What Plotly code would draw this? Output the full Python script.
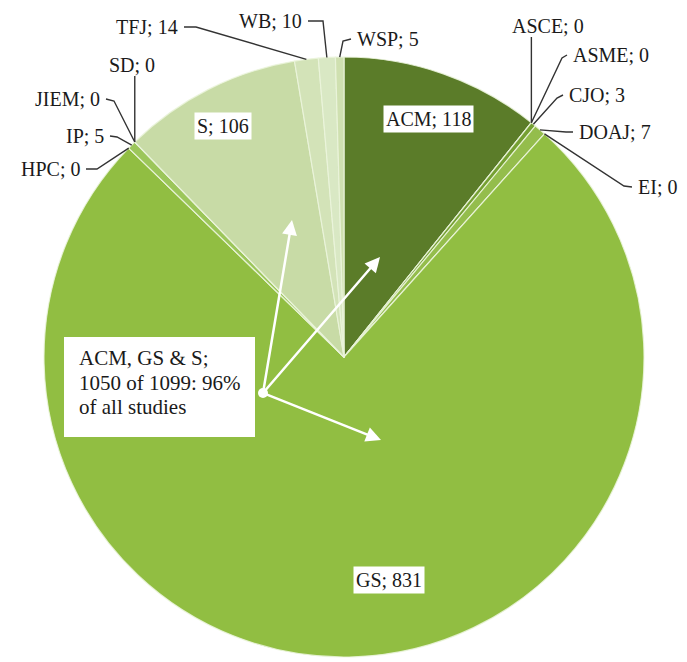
import math
import plotly.graph_objects as go

# ---- data ----
labels = ["ACM", "ASCE", "ASME", "CJO", "DOAJ", "EI", "GS", "HPC", "IP", "JIEM", "SD", "S", "TFJ", "WB", "WSP"]
values = [118, 0, 0, 3, 7, 0, 831, 0, 5, 0, 0, 106, 14, 10, 5]
slice_colors = ["#5b7c29", "#6e9430", "#6e9430", "#75a032", "#94bd4c", "#8fbc3f", "#91be42", "#8fbc40",
                "#9cc65a", "#c6d9a3", "#c6d9a3", "#c8dba6", "#d3e3b8", "#d9e8c4", "#cfe0b0"]
callout_lines = ["ACM, GS &amp; S;", "1050 of 1099: 96%", "of all studies"]

# page is 687x662; the page body has an 8px margin, so the figure is sized to fit the rest
PAGE_W, PAGE_H, OFF = 687, 662, 8
W, H = PAGE_W - OFF, PAGE_H - OFF
CX, CY, R = 344, 357, 300   # page pixel coordinates
FONT = "Liberation Serif"
FS = 20


def X(px):
    return (px - OFF) / W


def Y(py):
    return 1 - (py - OFF) / H


total = sum(values)
cum = []
c = 0
for v in values:
    cum.append((c, c + v))
    c += v


def anchor(name):
    i = labels.index(name)
    a0, a1 = cum[i]
    ang = math.radians((a0 + a1) / 2 / total * 360)
    return (CX + R * math.sin(ang), CY - R * math.cos(ang))


fig = go.Figure()
fig.add_trace(go.Pie(
    labels=labels, values=values, sort=False, direction="clockwise", rotation=0,
    marker=dict(colors=slice_colors, line=dict(color="rgba(235,245,220,0.85)", width=1.2)),
    textinfo="none", hoverinfo="label+value", showlegend=False,
    domain=dict(x=[X(CX - R), X(CX + R)], y=[Y(CY + R), Y(CY - R)]),
))

shapes = []
annotations = []
LINE = dict(color="#333333", width=1.4)

# outer labels: (name, text edge x, text y, side of text relative to line, elbow x, elbow y)
outer = [
    ("TFJ", 180, 27, "right", 196, 27),
    ("WB", 304, 21, "right", 323, 21),
    ("JIEM", 102, 99, "right", 114, 101),
    ("IP", 106, 136, "right", 117, 137),
    ("HPC", 82, 169, "right", 97, 169),
    ("WSP", 355, 39, "left", 343, 41),
    ("ASME", 571, 55, "left", 562, 58),
    ("CJO", 567, 95, "left", 557, 98),
    ("DOAJ", 577, 132, "left", 566, 132),
    ("EI", 636, 187, "left", 624, 186),
]
for name, tx, ty, side, ex, ey in outer:
    val = values[labels.index(name)]
    ax_, ay_ = anchor(name)
    if side == "left":
        p0 = (tx - 4, ty)
        xanchor = "left"
    else:
        p0 = (tx + 4, ty)
        xanchor = "right"
    path = f"M {X(p0[0])},{Y(p0[1])} L {X(ex)},{Y(ey)} L {X(ax_)},{Y(ay_)}"
    shapes.append(dict(type="path", xref="paper", yref="paper", path=path, line=LINE))
    annotations.append(dict(x=X(tx), y=Y(ty), xref="paper", yref="paper", text=f"{name}; {val}",
                            showarrow=False, xanchor=xanchor, yanchor="middle",
                            font=dict(family=FONT, size=FS, color="#1a1a1a")))

# vertical-leader labels
for name, tx, ty in [("ASCE", 548, 26), ("SD", 132, 65)]:
    val = values[labels.index(name)]
    ax_, ay_ = anchor(name)
    shapes.append(dict(type="line", xref="paper", yref="paper",
                       x0=X(ax_), y0=Y(ty + 11), x1=X(ax_), y1=Y(ay_), line=LINE))
    annotations.append(dict(x=X(tx), y=Y(ty), xref="paper", yref="paper", text=f"{name}; {val}",
                            showarrow=False, xanchor="center", yanchor="middle",
                            font=dict(family=FONT, size=FS, color="#1a1a1a")))

# inside boxed labels
for name, tx, ty in [("ACM", 428, 119), ("S", 223, 126), ("GS", 389, 580)]:
    val = values[labels.index(name)]
    annotations.append(dict(x=X(tx), y=Y(ty), xref="paper", yref="paper", text=f"{name}; {val}",
                            showarrow=False, xanchor="center", yanchor="middle", bgcolor="white",
                            borderpad=2, font=dict(family=FONT, size=FS, color="#1a1a1a")))

# callout box
shapes.append(dict(type="rect", xref="paper", yref="paper", x0=X(64), x1=X(255), y0=Y(337), y1=Y(437),
                   fillcolor="white", line=dict(width=0)))
for line_text, ly in zip(callout_lines, [358, 383, 407]):
    annotations.append(dict(x=X(77), y=Y(ly), xref="paper", yref="paper", text=line_text,
                            showarrow=False, xanchor="left", yanchor="middle", align="left",
                            font=dict(family=FONT, size=21, color="#1a1a1a")))

# arrows
ox, oy = 263, 393
for tx, ty in [(292, 220), (380, 257), (381, 440)]:
    annotations.append(dict(x=X(tx), y=Y(ty), xref="paper", yref="paper", text="",
                            showarrow=True, ax=ox - tx, ay=oy - ty, arrowhead=2, arrowsize=1.2,
                            arrowwidth=2.5, arrowcolor="white", standoff=0, startstandoff=0))
shapes.append(dict(type="circle", xref="paper", yref="paper", x0=X(ox - 5), x1=X(ox + 5),
                   y0=Y(oy - 5), y1=Y(oy + 5), fillcolor="white", line=dict(width=0)))

fig.update_layout(width=W, height=H, margin=dict(l=0, r=0, t=0, b=0),
                  paper_bgcolor="white", plot_bgcolor="white",
                  shapes=shapes, annotations=annotations)
fig.write_html("out.html")
